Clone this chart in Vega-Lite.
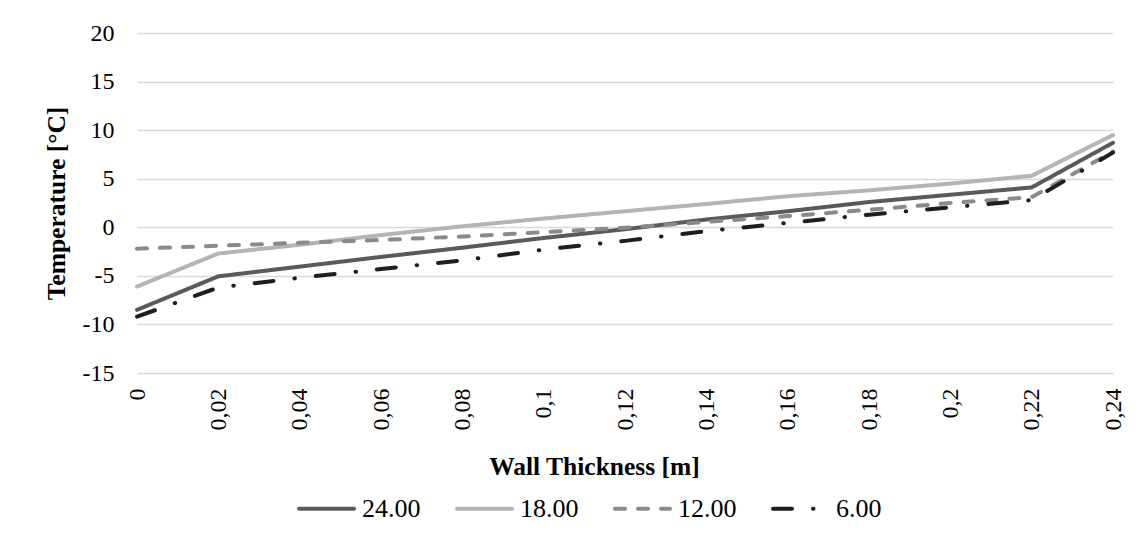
{
  "$schema": "https://vega.github.io/schema/vega-lite/v6.json",
  "width": 976,
  "height": 340,
  "autosize": {"type": "none"},
  "padding": {"left": 137, "top": 33, "right": 27, "bottom": 160},
  "background": "white",
  "config": {
    "view": {"stroke": null},
    "font": "Liberation Serif",
    "axis": {"labelFont": "Liberation Serif", "titleFont": "Liberation Serif", "labelColor": "#000000", "titleColor": "#000000"}
  },
  "data": {
    "values": [
      {"x": "0", "s": "24.00", "t": -8.5}, {"x": "0,02", "s": "24.00", "t": -5.05}, {"x": "0,04", "s": "24.00", "t": -4.05}, {"x": "0,06", "s": "24.00", "t": -3.05}, {"x": "0,08", "s": "24.00", "t": -2.1}, {"x": "0,1", "s": "24.00", "t": -1.1}, {"x": "0,12", "s": "24.00", "t": -0.2}, {"x": "0,14", "s": "24.00", "t": 0.8}, {"x": "0,16", "s": "24.00", "t": 1.65}, {"x": "0,18", "s": "24.00", "t": 2.6}, {"x": "0,2", "s": "24.00", "t": 3.35}, {"x": "0,22", "s": "24.00", "t": 4.1}, {"x": "0,24", "s": "24.00", "t": 8.7},
      {"x": "0", "s": "18.00", "t": -6.1}, {"x": "0,02", "s": "18.00", "t": -2.7}, {"x": "0,04", "s": "18.00", "t": -1.8}, {"x": "0,06", "s": "18.00", "t": -0.8}, {"x": "0,08", "s": "18.00", "t": 0.1}, {"x": "0,1", "s": "18.00", "t": 0.9}, {"x": "0,12", "s": "18.00", "t": 1.65}, {"x": "0,14", "s": "18.00", "t": 2.4}, {"x": "0,16", "s": "18.00", "t": 3.2}, {"x": "0,18", "s": "18.00", "t": 3.8}, {"x": "0,2", "s": "18.00", "t": 4.5}, {"x": "0,22", "s": "18.00", "t": 5.3}, {"x": "0,24", "s": "18.00", "t": 9.5},
      {"x": "0", "s": "12.00", "t": -2.2}, {"x": "0,02", "s": "12.00", "t": -1.9}, {"x": "0,04", "s": "12.00", "t": -1.6}, {"x": "0,06", "s": "12.00", "t": -1.3}, {"x": "0,08", "s": "12.00", "t": -0.95}, {"x": "0,1", "s": "12.00", "t": -0.5}, {"x": "0,12", "s": "12.00", "t": -0.05}, {"x": "0,14", "s": "12.00", "t": 0.55}, {"x": "0,16", "s": "12.00", "t": 1.15}, {"x": "0,18", "s": "12.00", "t": 1.8}, {"x": "0,2", "s": "12.00", "t": 2.5}, {"x": "0,22", "s": "12.00", "t": 3.1}, {"x": "0,24", "s": "12.00", "t": 7.8},
      {"x": "0", "s": "6.00", "t": -9.2}, {"x": "0,02", "s": "6.00", "t": -6.2}, {"x": "0,04", "s": "6.00", "t": -5.2}, {"x": "0,06", "s": "6.00", "t": -4.3}, {"x": "0,08", "s": "6.00", "t": -3.4}, {"x": "0,1", "s": "6.00", "t": -2.3}, {"x": "0,12", "s": "6.00", "t": -1.4}, {"x": "0,14", "s": "6.00", "t": -0.4}, {"x": "0,16", "s": "6.00", "t": 0.45}, {"x": "0,18", "s": "6.00", "t": 1.3}, {"x": "0,2", "s": "6.00", "t": 2.05}, {"x": "0,22", "s": "6.00", "t": 2.8}, {"x": "0,24", "s": "6.00", "t": 7.7}
    ]
  },
  "mark": {"type": "line", "strokeWidth": 4, "strokeCap": "round", "strokeJoin": "round"},
  "encoding": {
    "x": {
      "field": "x", "type": "ordinal", "sort": null,
      "scale": {"type": "point", "padding": 0},
      "axis": {
        "title": "Wall Thickness [m]", "titleFontSize": 25.5, "titleFontWeight": "bold",
        "titleX": 457, "titleY": 93, "titleBaseline": "middle",
        "labelAngle": -90, "labelFontSize": 24, "labelPadding": 15,
        "ticks": false, "domain": false, "grid": false
      }
    },
    "y": {
      "field": "t", "type": "quantitative",
      "scale": {"domain": [-15, 20], "nice": false},
      "axis": {
        "title": "Temperature [°C]", "titleFontSize": 25.5, "titleFontWeight": "bold",
        "titleX": -68, "titleY": 170,
        "values": [-15, -10, -5, 0, 5, 10, 15, 20],
        "labelExpr": "datum.value + ''",
        "labelFontSize": 24, "labelPadding": 23,
        "ticks": false, "domain": false,
        "grid": true, "gridColor": "#d9d9d9", "gridWidth": 1.5
      }
    },
    "color": {
      "field": "s", "type": "nominal", "sort": ["24.00", "18.00", "12.00", "6.00"],
      "scale": {"domain": ["24.00", "18.00", "12.00", "6.00"], "range": ["#5a5a5a", "#b4b4b4", "#8a8a8a", "#1e1e1e"]},
      "legend": {
        "title": null, "orient": "none", "legendX": 160, "legendY": 446, "direction": "horizontal",
        "symbolType": "stroke", "symbolSize": 3025, "symbolStrokeWidth": 4,
        "labelFont": "Liberation Serif", "labelFontSize": 26, "labelColor": "#000000",
        "labelOffset": 6, "columnPadding": 28, "padding": 0,
        "encode": {"symbols": {"update": {"strokeCap": {"value": "round"}}}}
      }
    },
    "strokeDash": {
      "field": "s", "type": "nominal", "sort": ["24.00", "18.00", "12.00", "6.00"],
      "scale": {"domain": ["24.00", "18.00", "12.00", "6.00"], "range": [[1, 0], [1, 0], [10, 13], [19, 21, 0.5, 21]]}
    }
  }
}
